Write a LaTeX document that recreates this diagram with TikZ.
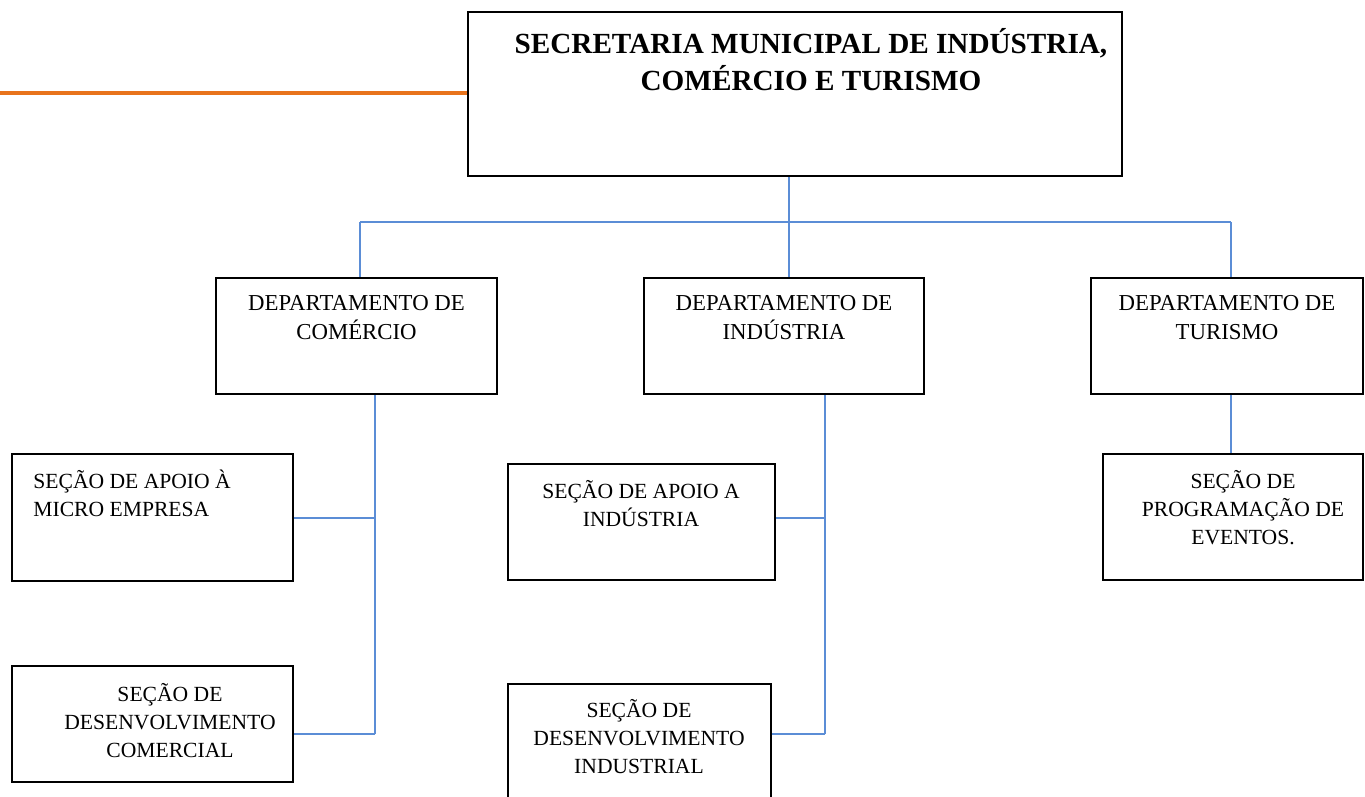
\documentclass[tikz,border=0pt]{standalone}
\usepackage{fontspec}
\setmainfont{Liberation Serif}
\definecolor{connblue}{HTML}{5B8DD6}
\definecolor{orangeline}{HTML}{E8731C}
\begin{document}
\begin{tikzpicture}[x=0.5pt,y=-0.5pt,
  box/.style={draw=black, line width=1.2pt, inner sep=0pt, fill=none},
  conn/.style={draw=connblue, line width=1pt},
  lbl/.style={align=center, inner sep=0pt, font=\fontsize{10.8}{14}\selectfont},
  dlbl/.style={align=center, inner sep=0pt, font=\fontsize{11.4}{14.5}\selectfont},
  ttl/.style={align=center, inner sep=0pt, font=\fontsize{14.6}{18.5}\selectfont\bfseries}]
\clip (0,0) rectangle (1365,797);
\fill[white] (0,0) rectangle (1365,797);
% boxes
\node[box, minimum width=327pt, minimum height=82pt] (sec) at (795,94) {};
\node[box, minimum width=140.5pt, minimum height=58pt] (dc) at (356.5,336) {};
\node[box, minimum width=140pt, minimum height=58pt] (di) at (784,336) {};
\node[box, minimum width=136pt, minimum height=58pt] (dt) at (1227,336) {};
\node[box, minimum width=140.5pt, minimum height=63.5pt] (s1) at (152.5,517.5) {};
\node[box, minimum width=140.5pt, minimum height=58pt] (s2) at (152.5,724) {};
\node[box, minimum width=133.5pt, minimum height=58pt] (s3) at (641.5,522) {};
\node[box, minimum width=131.5pt, minimum height=63pt] (s4) at (639.5,747) {};
\node[box, minimum width=130pt, minimum height=63pt] (s5) at (1233,517) {};
% texts
\node[ttl] (tsec) at (811,60) {SECRETARIA MUNICIPAL DE INDÚSTRIA,\\COMÉRCIO E TURISMO};
\node[dlbl] (tdc) at (356.5,317.5) {DEPARTAMENTO DE\\COMÉRCIO};
\node[dlbl] (tdi) at (784,317.5) {DEPARTAMENTO DE\\INDÚSTRIA};
\node[dlbl] (tdt) at (1227,317.5) {DEPARTAMENTO DE\\TURISMO};
\node[lbl, align=left, anchor=west] (ts1) at (33,493.5) {SEÇÃO DE APOIO À\\MICRO EMPRESA};
\node[lbl] (ts2) at (170,720.5) {SEÇÃO DE\\DESENVOLVIMENTO\\COMERCIAL};
\node[lbl] (ts3) at (641,504) {SEÇÃO DE APOIO A\\INDÚSTRIA};
\node[lbl] (ts4) at (639,737) {SEÇÃO DE\\DESENVOLVIMENTO\\INDUSTRIAL};
\node[lbl] (ts5) at (1243,508) {SEÇÃO DE\\PROGRAMAÇÃO DE\\EVENTOS.};
% connectors
\coordinate (o) at (0,93);
\draw[orangeline, line width=2pt] (o) -- (o -| sec.west);
\coordinate (bus) at (789,222);
\coordinate (bl) at (360,222);
\coordinate (br) at (1231,222);
\draw[conn] (bus |- sec.south) -- (bus);
\draw[conn] (bl) -- (br);
\draw[conn] (bl) -- (bl |- dc.north);
\draw[conn] (bus) -- (bus |- di.north);
\draw[conn] (br) -- (br |- dt.north);
\coordinate (c1) at (375,518);
\coordinate (c2) at (375,734);
\draw[conn] (c1 |- dc.south) -- (c2);
\draw[conn] (c1) -- (c1 -| s1.east);
\draw[conn] (c2) -- (c2 -| s2.east);
\coordinate (i1) at (825,518);
\coordinate (i2) at (825,734);
\draw[conn] (i1 |- di.south) -- (i2);
\draw[conn] (i1) -- (i1 -| s3.east);
\draw[conn] (i2) -- (i2 -| s4.east);
\draw[conn] (br |- dt.south) -- (br |- s5.north);
\end{tikzpicture}
\end{document}
